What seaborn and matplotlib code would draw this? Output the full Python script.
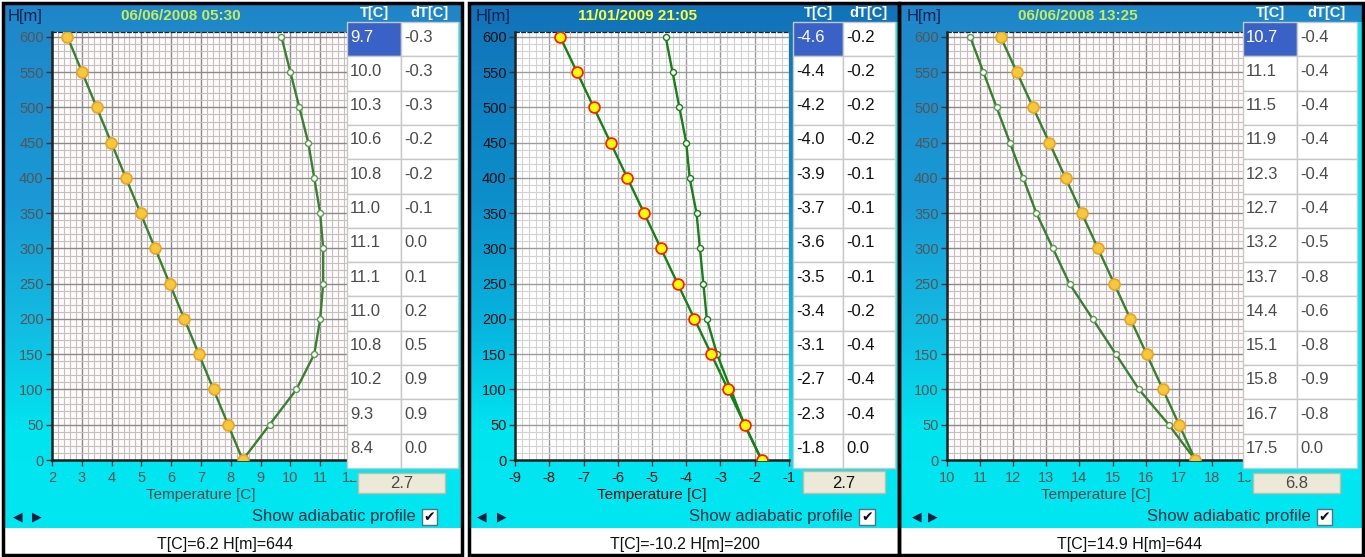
import numpy as np
import pandas as pd
import matplotlib
matplotlib.use("Agg")
import matplotlib.pyplot as plt
import seaborn as sns
from matplotlib.patches import Rectangle
from matplotlib.ticker import MultipleLocator
from matplotlib.colors import to_rgb
from matplotlib import font_manager

# ---------------- data (table order: top row = 600 m) ----------------
heights = [600, 550, 500, 450, 400, 350, 300, 250, 200, 150, 100, 50, 0]

p1_title = "06/06/2008 05:30"
p1_temp = [9.7, 10.0, 10.3, 10.6, 10.8, 11.0, 11.1, 11.1, 11.0, 10.8, 10.2, 9.3, 8.4]
p1_dt = [-0.3, -0.3, -0.3, -0.2, -0.2, -0.1, 0.0, 0.1, 0.2, 0.5, 0.9, 0.9, 0.0]
p1_adiab = [2.52, 3.01, 3.50, 3.99, 4.48, 4.97, 5.46, 5.95, 6.44, 6.93, 7.42, 7.91, 8.40]
p1_xticks = [2, 3, 4, 5, 6, 7, 8, 9, 10, 11, 12]
p1_box = "2.7"
p1_status = "T[C]=6.2 H[m]=644"

p2_title = "11/01/2009 21:05"
p2_temp = [-4.6, -4.4, -4.2, -4.0, -3.9, -3.7, -3.6, -3.5, -3.4, -3.1, -2.7, -2.3, -1.8]
p2_dt = [-0.2, -0.2, -0.2, -0.2, -0.1, -0.1, -0.1, -0.1, -0.2, -0.4, -0.4, -0.4, 0.0]
p2_adiab = [-7.68, -7.19, -6.70, -6.21, -5.72, -5.23, -4.74, -4.25, -3.76, -3.27, -2.78, -2.29, -1.80]
p2_xticks = [-9, -8, -7, -6, -5, -4, -3, -2, -1]
p2_box = "2.7"
p2_status = "T[C]=-10.2 H[m]=200"

p3_title = "06/06/2008 13:25"
p3_temp = [10.7, 11.1, 11.5, 11.9, 12.3, 12.7, 13.2, 13.7, 14.4, 15.1, 15.8, 16.7, 17.5]
p3_dt = [-0.4, -0.4, -0.4, -0.4, -0.4, -0.4, -0.5, -0.8, -0.6, -0.8, -0.9, -0.8, 0.0]
p3_adiab = [11.62, 12.11, 12.60, 13.09, 13.58, 14.07, 14.56, 15.05, 15.54, 16.03, 16.52, 17.01, 17.50]
p3_xticks = [10, 11, 12, 13, 14, 15, 16, 17, 18, 19]
p3_box = "6.8"
p3_status = "T[C]=14.9 H[m]=644"

yticks = [0, 50, 100, 150, 200, 250, 300, 350, 400, 450, 500, 550, 600]

# ---------------- setup ----------------
sns.set_theme(style="white")
names = {f.name for f in font_manager.fontManager.ttflist}
narrow = "Liberation Sans Narrow" if "Liberation Sans Narrow" in names else "Liberation Sans"
plt.rcParams["font.family"] = [narrow, "DejaVu Sans"]
plt.rcParams["axes.unicode_minus"] = False

W, H = 1365, 557
fig = plt.figure(figsize=(W / 100, H / 100), dpi=100)
fig.patch.set_facecolor("white")


def frac(x0, y0, x1, y1):
    return [x0 / W, 1 - y1 / H, (x1 - x0) / W, (y1 - y0) / H]


bg = fig.add_axes([0, 0, 1, 1], zorder=0)
ov = fig.add_axes([0, 0, 1, 1], zorder=5)
ov.patch.set_visible(False)


def gradient(x0, x1, y0, y1, stops):
    ys = np.linspace(y0, y1, 400)
    sy = [s[0] for s in stops]
    cols = np.array([to_rgb(s[1]) for s in stops])
    img = np.stack([np.interp(ys, sy, cols[:, k]) for k in range(3)], axis=-1)[:, None, :]
    bg.imshow(img, extent=[x0, x1, y1, y0], aspect="auto", interpolation="bilinear", zorder=0)


panels = [
    dict(x0=3, x1=462, ax_x0=52, ax_x1=350, xlim=(2, 12), xt=p1_xticks,
         temp=p1_temp, dt=p1_dt, adiab=p1_adiab, title=p1_title, box=p1_box, status=p1_status,
         tx0=347, txm=401, tx1=458, btn=(358, 473, 445, 493),
         hm_x=8, title_x=181, title_c="#c6ec5a",
         chk=(422, 437), arrows=(18, 37), status_x=225,
         stops=[(5, "#1f86c8"), (200, "#1a99d6"), (330, "#12bde3"), (430, "#00e4f0"), (560, "#00e8f2")],
         text_c="#4a4a4a", tick_c="#555555", face="#fffbfb", major="#8a8a8a", minor="#c2c0c0",
         line_c="#3a8030", ad_fc="#f6c93a", ad_ec="#eaa52a", wm_ec="#5a9a50"),
    dict(x0=469, x1=899, ax_x0=515, ax_x1=789, xlim=(-9, -1), xt=p2_xticks,
         temp=p2_temp, dt=p2_dt, adiab=p2_adiab, title=p2_title, box=p2_box, status=p2_status,
         tx0=793, txm=843, tx1=895, btn=(803, 471, 885, 493),
         hm_x=476, title_x=637, title_c="#ffff33",
         chk=(859, 875), arrows=(482, 502), status_x=685,
         stops=[(5, "#1272b8"), (200, "#0c8fcb"), (330, "#06b6df"), (430, "#00e4f0"), (560, "#00e8f2")],
         text_c="#111111", tick_c="#111111", face="#ffffff", major="#9c9c9c", minor="#d2d2d2",
         line_c="#168016", ad_fc="#ffff00", ad_ec="#ff2200", wm_ec="#168016"),
    dict(x0=899, x1=1363, ax_x0=947, ax_x1=1245, xlim=(10, 19), xt=p3_xticks,
         temp=p3_temp, dt=p3_dt, adiab=p3_adiab, title=p3_title, box=p3_box, status=p3_status,
         tx0=1243, txm=1297, tx1=1357, btn=(1253, 473, 1340, 493),
         hm_x=907, title_x=1078, title_c="#c6ec5a",
         chk=(1317, 1332), arrows=(917, 933), status_x=1130,
         stops=[(5, "#1f86c8"), (200, "#1a99d6"), (330, "#12bde3"), (430, "#00e4f0"), (560, "#00e8f2")],
         text_c="#4a4a4a", tick_c="#555555", face="#fffbfb", major="#8a8a8a", minor="#c2c0c0",
         line_c="#3a8030", ad_fc="#f6c93a", ad_ec="#eaa52a", wm_ec="#5a9a50"),
]

ROW_TOP, ROW_H, NROW = 22, 34.3, 13
AX_TOP, AX_BOT = 32, 460
CYAN = "#00e8f2"

for p in panels:
    x0, x1 = p["x0"], p["x1"]
    # background gradient + white status strip
    gradient(x0, x1, 4, 528, p["stops"])
    bg.add_patch(Rectangle((x0, 528), x1 - x0, 27, facecolor="white", edgecolor="none", zorder=1))

    # ---------------- plot ----------------
    ax = fig.add_axes(frac(p["ax_x0"], AX_TOP, p["ax_x1"], AX_BOT), zorder=2)
    ax.set_facecolor(p["face"])
    df = pd.DataFrame({"H": heights, "T": p["temp"], "A": p["adiab"]})
    sns.lineplot(data=df, x="A", y="H", sort=False, estimator=None, ax=ax,
                 color=p["line_c"], lw=1.7, marker="o", markersize=7.8,
                 markerfacecolor=p["ad_fc"], markeredgecolor=p["ad_ec"], markeredgewidth=1.3, zorder=4)
    sns.lineplot(data=df, x="T", y="H", sort=False, estimator=None, ax=ax,
                 color=p["line_c"], lw=1.7, marker="o", markersize=4.3,
                 markerfacecolor="white", markeredgecolor=p["wm_ec"], markeredgewidth=1.0, zorder=3)
    ax.set_xlim(*p["xlim"])
    ax.set_ylim(0, 607)
    ax.set_xticks(p["xt"])
    ax.set_yticks(yticks)
    ax.xaxis.set_minor_locator(MultipleLocator(0.2))
    ax.yaxis.set_minor_locator(MultipleLocator(10))
    ax.set_axisbelow(True)
    ax.grid(which="minor", color=p["minor"], lw=0.8)
    ax.grid(which="major", color=p["major"], lw=1.0)
    ax.tick_params(which="minor", length=0)
    ax.tick_params(which="major", direction="out", length=4, width=1, color="#333333",
                   labelcolor=p["tick_c"], labelsize=10.5, pad=2,
                   left=True, bottom=True)
    ax.tick_params(axis="x", pad=4)
    ax.set_xlabel("Temperature [C]", fontsize=11, color=p["text_c"], labelpad=2)
    ax.set_ylabel("")
    for s in ("left", "bottom"):
        ax.spines[s].set_color("#222222")
        ax.spines[s].set_linewidth(1.8)
    ax.spines["right"].set_visible(False)
    ax.spines["top"].set_linestyle((0, (3, 2)))
    ax.spines["top"].set_linewidth(0.9)
    ax.spines["top"].set_color("#222222")

    # ---------------- overlay: headers ----------------
    ov.text(p["hm_x"], 16, "H[m]", fontsize=12, color="#10204a", ha="left", va="center")
    ov.text(p["title_x"], 16, p["title"], fontsize=11, color=p["title_c"], ha="center", va="center",
            fontweight="bold")
    tx0, txm, tx1 = p["tx0"], p["txm"], p["tx1"]
    ov.text((tx0 + txm) / 2, 13, "T[C]", fontsize=10.5, color="white", ha="center", va="center",
            fontweight="bold")
    ov.text((txm + tx1) / 2, 13, "dT[C]", fontsize=10.5, color="white", ha="center", va="center",
            fontweight="bold")

    # cover for the clipped last tick label
    ov.add_patch(Rectangle((tx0, ROW_TOP), x1 - 1 - tx0, 480 - ROW_TOP, facecolor=CYAN,
                           edgecolor="none", zorder=1))
    # ---------------- table ----------------
    for i in range(NROW):
        yt = ROW_TOP + i * ROW_H
        fc = "#3a62c6" if i == 0 else "white"
        ov.add_patch(Rectangle((tx0, yt), txm - tx0, ROW_H, facecolor=fc, edgecolor="#c8c8c8",
                               lw=1, zorder=2))
        ov.add_patch(Rectangle((txm, yt), tx1 - txm, ROW_H, facecolor="white", edgecolor="#c8c8c8",
                               lw=1, zorder=2))
        tc = "white" if i == 0 else p["text_c"]
        ov.text(tx0 + 3, yt + 15, f"{p['temp'][i]:.1f}", fontsize=12, color=tc,
                ha="left", va="center", zorder=3)
        ov.text(txm + 3, yt + 15, f"{p['dt'][i]:.1f}", fontsize=12, color=p["text_c"],
                ha="left", va="center", zorder=3)

    # button
    bx0, by0, bx1, by1 = p["btn"]
    ov.add_patch(Rectangle((bx0, by0), bx1 - bx0, by1 - by0, facecolor="#ece9d8",
                           edgecolor="#c2bca6", lw=1, zorder=3))
    ov.text((bx0 + bx1) / 2, (by0 + by1) / 2 + 1, p["box"], fontsize=12, color=p["text_c"],
            ha="center", va="center", zorder=4)

    # arrows, checkbox, label
    ov.text(p["arrows"][0], 517, "◀", fontsize=9, color="#102040", ha="center", va="center",
            family="DejaVu Sans")
    ov.text(p["arrows"][1], 517, "▶", fontsize=9, color="#102040", ha="center", va="center",
            family="DejaVu Sans")
    c0, c1 = p["chk"]
    ov.add_patch(Rectangle((c0, 509), c1 - c0, 16, facecolor="white", edgecolor="#5a7080",
                           lw=1, zorder=3))
    ov.text((c0 + c1) / 2, 517, "✔", fontsize=10, color="#101010", ha="center", va="center",
            family="DejaVu Sans", zorder=4)
    ov.text(c0 - 6, 517, "Show adiabatic profile", fontsize=12, color="#153040",
            ha="right", va="center")

    # status bar
    ov.text(p["status_x"], 544, p["status"], fontsize=11.5, color="#111111", ha="center", va="center")

    # frame
    ov.add_patch(Rectangle((x0, 3), x1 - x0, 552, facecolor="none", edgecolor="black", lw=2.5,
                           zorder=6))

for a in (bg, ov):
    a.set_xlim(0, W)
    a.set_ylim(H, 0)
    a.axis("off")

fig.savefig("out.png", dpi=100, facecolor="white")
